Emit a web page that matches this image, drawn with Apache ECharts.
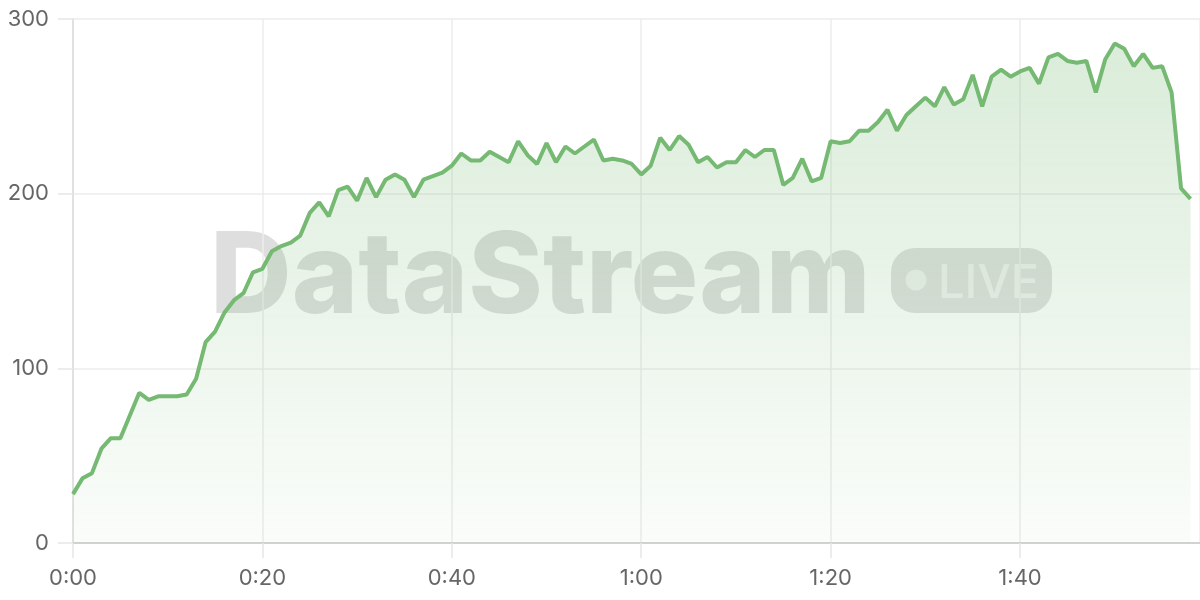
<!DOCTYPE html>
<html>
<head>
<meta charset="utf-8">
<script src="https://cdn.jsdelivr.net/npm/echarts@6/dist/echarts.min.js"></script>
<style>
html,body{margin:0;padding:0;background:#fff;}
#chart{width:1200px;height:600px;}
</style>
</head>
<body>
<div id="chart"></div>
<script>
// values per second (0..118 s)
const values = [
  28, 37, 40, 54, 60, 60, 73, 86, 82, 84,
  84, 84, 85, 94, 115, 121, 132, 139, 143, 155,
  157, 167, 170, 172, 176, 189, 195, 187, 202, 204,
  196, 209, 198, 208, 211, 208, 198, 208, 210, 212,
  216, 223, 219, 219, 224, 221, 218, 230, 222, 217,
  229, 218, 227, 223, 227, 231, 219, 220, 219, 217,
  211, 216, 232, 225, 233, 228, 218, 221, 215, 218,
  218, 225, 221, 225, 225, 205, 209, 220, 207, 209,
  230, 229, 230, 236, 236, 241, 248, 236, 245, 250,
  255, 250, 261, 251, 254, 268, 250, 267, 271, 267,
  270, 272, 263, 278, 280, 276, 275, 276, 258, 277,
  286, 283, 273, 280, 272, 273, 258, 203, 197
];
const yTicks = [0, 100, 200, 300];
const xTickStep = 20;

const lineColor = '#75b973';
const chart = echarts.init(document.getElementById('chart'), null, {renderer: 'canvas'});
const fmtTime = v => Math.floor(v / 60) + ':' + String(v % 60).padStart(2, '0');

chart.setOption({
  animation: false,
  grid: {left: 73, right: 0, top: 19, bottom: 57, containLabel: false},
  xAxis: {
    type: 'value',
    min: 0,
    max: 119,
    interval: xTickStep,
    axisLine: {show: true, lineStyle: {color: '#d2d2d2', width: 2}},
    axisTick: {show: true, length: 15, lineStyle: {color: '#e6e6e6', width: 1.5}},
    splitLine: {show: true, lineStyle: {color: '#ececec', width: 1.5}},
    axisLabel: {
      formatter: fmtTime,
      fontFamily: 'Inter', fontSize: 22, color: '#666', margin: 24,
      showMaxLabel: false
    }
  },
  yAxis: {
    type: 'value',
    min: yTicks[0],
    max: yTicks[yTicks.length - 1],
    interval: 100,
    axisLine: {show: true, lineStyle: {color: '#dcdcdc', width: 1.5}},
    axisTick: {show: true, length: 15, lineStyle: {color: '#e6e6e6', width: 1.5}},
    splitLine: {show: true, lineStyle: {color: '#ececec', width: 1.5}},
    axisLabel: {fontFamily: 'Inter', fontSize: 22, color: '#666', margin: 24}
  },
  graphic: [
    {
      type: 'text', z: 0,
      style: {
        text: 'DataStream', x: 210, y: 279,
        font: '800 113px Inter',
        fill: 'rgba(0,0,0,0.13)',
        align: 'left', verticalAlign: 'middle'
      }
    },
    {
      type: 'rect', z: 0,
      shape: {x: 891, y: 248, width: 161, height: 65, r: 24},
      style: {fill: 'rgba(0,0,0,0.12)'}
    },
    {
      type: 'circle', z: 0,
      shape: {cx: 916, cy: 280, r: 10.5},
      style: {fill: 'rgba(255,255,255,0.55)'}
    },
    {
      type: 'text', z: 0,
      style: {
        text: 'LIVE', x: 938, y: 284,
        font: '500 47px Inter',
        fill: 'rgba(255,255,255,0.55)',
        align: 'left', verticalAlign: 'middle'
      }
    }
  ],
  series: [{
    type: 'line',
    data: values.map((v, i) => [i, v]),
    showSymbol: false,
    symbol: 'none',
    lineStyle: {color: lineColor, width: 4},
    itemStyle: {color: lineColor},
    areaStyle: {
      color: new echarts.graphic.LinearGradient(0, 0, 0, 1, [
        {offset: 0, color: 'rgba(118,185,116,0.38)'},
        {offset: 1, color: 'rgba(118,185,116,0.05)'}
      ])
    }
  }]
});
</script>
</body>
</html>
